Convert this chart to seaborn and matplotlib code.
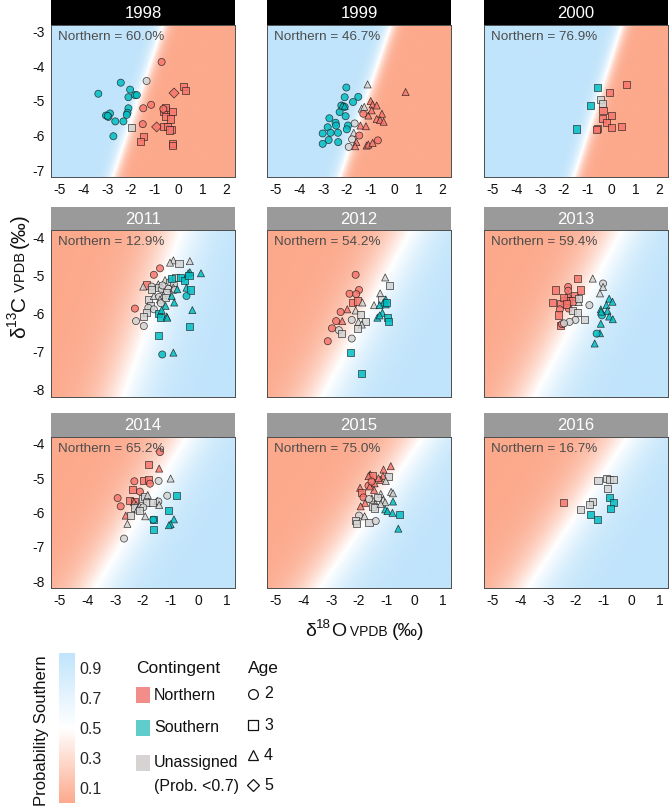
import numpy as np
import pandas as pd
import matplotlib
matplotlib.use("Agg")
import matplotlib.pyplot as plt
import seaborn as sns
from matplotlib.colors import LinearSegmentedColormap, Normalize
from matplotlib.cm import ScalarMappable
from matplotlib.patches import Rectangle
from matplotlib.lines import Line2D
from matplotlib import font_manager as fm

# ------------------------------------------------------------------ data
YEARS = [1998, 1999, 2000, 2011, 2012, 2013, 2014, 2015, 2016]
NORTHERN_PCT = ["60.0", "46.7", "76.9", "12.9", "54.2", "59.4", "65.2", "75.0", "16.7"]

# probability surface: boundary (p = 0.5) d18O at top / bottom of the panel, steepness
BOUND_TOP = [-0.66, -0.16, 0.42, -0.62, -0.12, -0.35, -0.44, 0.29, -0.16]
BOUND_BOT = [-2.76, -2.30, -1.58, -2.72, -3.33, -3.50, -3.72, -3.41, -3.74]
STEEP = [-6.0, -6.0, -6.0, 1.6, 1.6, 1.6, 1.6, 1.6, 1.6]

X_TICKS_A = [-5, -4, -3, -2, -1, 0, 1, 2]
Y_TICKS_A = [-7, -6, -5, -4, -3]
X_TICKS_B = [-5, -4, -3, -2, -1, 0, 1]
Y_TICKS_B = [-8, -7, -6, -5, -4]

CB_TICKS = [0.1, 0.3, 0.5, 0.7, 0.9]
CONTINGENTS = ["Northern", "Southern", "Unassigned"]
AGES = [2, 3, 4, 5]

# (d18O, d13C, contingent, age)
PTS_1998 = [
    (-3.37, -4.79, "S", 2), (-2.43, -4.47, "S", 2), (-2.04, -4.67, "S", 2), (-2.11, -4.89, "S", 2),
    (-1.83, -4.83, "S", 2), (-1.76, -4.83, "S", 2), (-2.11, -5.21, "S", 2), (-2.15, -5.34, "S", 2),
    (-2.18, -5.40, "S", 2), (-2.88, -5.36, "S", 2), (-3.05, -5.42, "S", 2), (-2.95, -5.46, "S", 2),
    (-2.98, -5.43, "S", 2), (-2.66, -5.59, "S", 2), (-2.32, -5.59, "S", 2), (-2.74, -6.02, "S", 2),
    (-1.35, -4.42, "U", 2), (-2.00, -5.78, "U", 3),
    (-0.72, -3.87, "N", 2), (-1.16, -5.11, "N", 2), (-1.49, -5.21, "N", 2), (-1.51, -5.67, "N", 2),
    (0.19, -4.59, "N", 3), (0.27, -4.69, "N", 3), (-0.20, -4.77, "N", 5), (-0.58, -5.25, "N", 3),
    (-0.65, -5.29, "N", 3), (-0.55, -5.20, "N", 3), (-0.65, -5.23, "N", 2), (-0.26, -5.30, "N", 3),
    (-0.56, -5.46, "N", 3), (-0.34, -5.52, "N", 3), (-0.93, -5.75, "N", 5), (-0.65, -5.73, "N", 3),
    (-0.48, -5.75, "N", 3), (-0.30, -5.82, "N", 3), (-0.38, -5.84, "N", 3), (-1.49, -6.04, "N", 3),
    (-1.60, -6.16, "N", 3), (-0.26, -6.24, "N", 3), (-0.26, -6.29, "N", 3),
]
PTS_1999 = [
    (-2.03, -4.61, "S", 2), (-2.10, -4.89, "S", 2), (-1.53, -4.88, "S", 2), (-1.75, -5.03, "S", 2),
    (-2.24, -5.13, "S", 2), (-2.10, -5.17, "S", 2), (-2.31, -5.32, "S", 2), (-2.06, -5.44, "S", 2),
    (-2.74, -5.50, "S", 2), (-2.48, -5.63, "S", 2), (-2.46, -5.71, "S", 2), (-2.81, -5.76, "S", 2),
    (-1.96, -5.71, "S", 2), (-2.01, -5.82, "S", 2), (-3.02, -5.94, "S", 2), (-2.69, -5.92, "S", 2),
    (-2.38, -5.92, "S", 2), (-2.77, -6.13, "S", 2), (-3.02, -6.24, "S", 2), (-2.37, -6.19, "S", 2),
    (-2.20, -5.13, "S", 4), (-2.10, -5.15, "S", 4),
    (-1.14, -4.52, "U", 4), (-1.39, -5.22, "U", 4), (-1.28, -5.17, "U", 4), (-1.68, -5.65, "U", 2),
    (-1.72, -5.92, "U", 4), (-1.79, -6.11, "U", 2), (-1.93, -6.33, "U", 2),
    (0.45, -4.74, "N", 4), (-1.01, -5.00, "N", 4), (-0.93, -5.10, "N", 4), (-0.76, -5.13, "N", 4),
    (-1.32, -5.37, "N", 2), (-1.11, -5.42, "N", 4), (-0.54, -5.37, "N", 4), (-0.76, -5.52, "N", 4),
    (-0.62, -5.55, "N", 4), (-0.47, -5.60, "N", 4), (-0.97, -5.27, "N", 4), (-1.44, -5.71, "N", 4),
    (-1.21, -5.73, "N", 4), (-1.49, -6.00, "N", 2), (-1.61, -6.19, "N", 4), (-1.66, -6.31, "N", 4),
    (-1.18, -6.29, "N", 4), (-1.11, -6.26, "N", 4), (-0.93, -6.21, "N", 4), (-0.71, -6.14, "N", 2),
]
PTS_2000 = [
    (-0.61, -4.61, "S", 3), (-0.89, -5.12, "S", 3), (-1.48, -5.81, "S", 3),
    (-0.49, -4.95, "U", 3), (-0.41, -5.06, "U", 3),
    (0.62, -4.52, "N", 3), (-0.08, -4.76, "N", 3), (-0.37, -5.27, "N", 3), (-0.01, -5.42, "N", 3),
    (-0.38, -5.51, "N", 3), (-0.21, -5.62, "N", 3), (-0.61, -5.79, "N", 3), (-0.66, -5.82, "N", 3),
    (0.00, -5.78, "N", 3), (0.41, -5.75, "N", 3),
]
PTS_2011 = [
    (-1.39, -4.81, "N", 2), (-1.61, -4.98, "N", 2), (-1.87, -5.25, "N", 3), (-2.29, -5.87, "N", 2),
    (-0.91, -4.60, "U", 4), (-0.71, -4.69, "U", 3), (-0.32, -4.62, "U", 4), (-1.03, -4.66, "U", 4),
    (-0.85, -5.05, "U", 3), (-1.21, -5.12, "U", 4), (-1.69, -5.29, "U", 2), (-1.45, -5.23, "U", 4),
    (-1.03, -5.17, "U", 2), (-0.89, -5.23, "U", 2), (-1.45, -5.32, "U", 3), (-1.33, -5.36, "U", 2),
    (-1.09, -5.35, "U", 2), (-1.15, -5.45, "U", 3), (-0.91, -5.32, "U", 4), (-0.85, -5.38, "U", 2),
    (-1.81, -5.64, "U", 3), (-1.61, -5.54, "U", 4), (-1.42, -5.56, "U", 2), (-1.27, -5.52, "U", 4),
    (-1.39, -5.63, "U", 4), (-1.18, -5.58, "U", 3), (-1.73, -5.78, "U", 3), (-1.81, -5.85, "U", 2),
    (-1.61, -5.89, "U", 2), (-1.87, -5.98, "U", 3), (-1.97, -6.08, "U", 3), (-2.25, -6.20, "U", 2),
    (-1.97, -6.33, "U", 2), (-1.36, -5.73, "U", 2), (-1.99, -5.29, "U", 4), (-1.69, -5.36, "U", 3),
    (-1.30, -5.26, "U", 2),
    (-0.32, -4.91, "S", 4), (0.08, -4.94, "S", 4), (-0.38, -4.94, "S", 4), (-0.97, -5.08, "S", 3),
    (-0.65, -5.04, "S", 3), (-0.50, -5.12, "S", 3), (-0.35, -5.01, "S", 3), (-0.77, -5.36, "S", 4),
    (-0.97, -5.54, "S", 4), (-0.44, -5.32, "S", 4), (-0.28, -5.38, "S", 3), (-0.44, -5.54, "S", 2),
    (-0.88, -5.71, "S", 4), (-1.19, -5.80, "S", 4), (-1.45, -6.00, "S", 3), (-1.33, -5.91, "S", 4),
    (-1.37, -6.10, "S", 3), (-1.15, -6.08, "S", 4), (-1.13, -6.11, "S", 4), (-0.23, -5.91, "S", 4),
    (-0.34, -6.35, "S", 3), (-1.43, -6.58, "S", 3), (-1.31, -7.08, "S", 2), (-0.91, -7.03, "S", 4),
]
PTS_2012 = [
    (-2.12, -4.98, "N", 2), (-2.00, -5.38, "N", 2), (-2.34, -5.48, "N", 2), (-2.10, -5.49, "N", 2),
    (-2.24, -5.71, "N", 3), (-2.06, -5.67, "N", 3), (-2.42, -5.89, "N", 4), (-2.66, -5.96, "N", 2),
    (-2.82, -6.20, "N", 2), (-2.60, -6.20, "N", 4), (-2.97, -6.39, "N", 2), (-3.12, -6.73, "N", 2),
    (-1.06, -5.05, "U", 4), (-0.92, -5.27, "U", 3), (-1.24, -5.47, "U", 4), (-1.88, -5.71, "U", 4),
    (-1.46, -5.78, "U", 4), (-2.12, -5.92, "U", 4), (-1.94, -6.02, "U", 3), (-2.26, -6.17, "U", 2),
    (-2.02, -6.22, "U", 4), (-1.78, -6.22, "U", 3), (-1.90, -6.29, "U", 4), (-2.06, -6.40, "U", 3),
    (-2.72, -6.44, "U", 2), (-2.64, -6.53, "U", 3), (-2.26, -6.66, "U", 2), (-1.18, -5.63, "U", 3),
    (-1.04, -5.63, "S", 4), (-1.12, -5.71, "S", 4), (-1.26, -5.78, "S", 4), (-1.04, -5.76, "S", 4),
    (-1.00, -5.70, "S", 3), (-1.16, -5.98, "S", 4), (-1.34, -6.11, "S", 4), (-1.26, -6.05, "S", 4),
    (-0.98, -6.11, "S", 3), (-0.94, -6.22, "S", 3), (-2.30, -7.02, "S", 3), (-1.90, -7.59, "S", 3),
]
PTS_2013 = [
    (-1.96, -5.08, "N", 3), (-2.28, -5.30, "N", 2), (-2.74, -5.38, "N", 3), (-2.29, -5.48, "N", 4),
    (-2.07, -5.54, "N", 3), (-2.41, -5.65, "N", 3), (-2.26, -5.65, "N", 3), (-2.83, -5.70, "N", 3),
    (-2.56, -5.73, "N", 3), (-2.58, -5.89, "N", 2), (-2.26, -5.87, "N", 2), (-2.64, -6.04, "N", 3),
    (-2.56, -6.31, "N", 3), (-1.84, -5.38, "N", 3), (-2.13, -5.67, "N", 3), (-2.28, -5.40, "N", 2),
    (-2.45, -5.58, "N", 3), (-2.35, -5.75, "N", 3), (-2.50, -6.28, "N", 2),
    (-1.40, -5.08, "U", 4), (-1.03, -5.21, "U", 2), (-1.03, -5.30, "U", 4), (-1.14, -5.47, "U", 4),
    (-1.90, -5.70, "U", 4), (-1.90, -5.61, "U", 3), (-1.52, -5.78, "U", 2), (-2.14, -5.91, "U", 3),
    (-1.96, -5.98, "U", 3), (-2.02, -6.17, "U", 2), (-2.23, -6.22, "U", 2), (-2.43, -6.26, "U", 2),
    (-1.69, -6.16, "U", 3),
    (-0.81, -5.61, "S", 4), (-0.69, -5.69, "S", 4), (-0.91, -5.78, "S", 4), (-1.11, -5.89, "S", 4),
    (-0.87, -5.93, "S", 4), (-1.07, -6.05, "S", 2), (-0.81, -6.08, "S", 4), (-0.68, -6.15, "S", 4),
    (-1.11, -6.27, "S", 4), (-1.14, -6.52, "S", 4), (-1.26, -6.53, "S", 2), (-1.33, -6.79, "S", 4),
    (-1.10, -5.95, "S", 4),
]
PTS_2014 = [
    (-1.39, -4.24, "N", 2), (-1.79, -4.60, "N", 3), (-1.42, -4.72, "N", 4), (-2.31, -5.09, "N", 2),
    (-1.97, -5.08, "N", 3), (-1.79, -5.03, "N", 3), (-1.75, -5.16, "N", 2), (-2.37, -5.32, "N", 3),
    (-2.11, -5.39, "N", 2), (-2.91, -5.58, "N", 2), (-2.50, -5.66, "N", 3), (-2.32, -5.67, "N", 3),
    (-2.32, -5.70, "N", 4), (-2.80, -5.82, "N", 2), (-2.62, -6.09, "N", 4),
    (-1.44, -5.08, "U", 2), (-1.01, -5.01, "U", 4), (-1.13, -5.51, "U", 2), (-2.01, -5.58, "U", 3),
    (-1.93, -5.54, "U", 3), (-1.83, -5.49, "U", 4), (-1.49, -5.66, "U", 4), (-1.45, -5.68, "U", 2),
    (-1.42, -5.78, "U", 4), (-1.87, -5.72, "U", 3), (-1.67, -5.70, "U", 3), (-2.25, -5.78, "U", 4),
    (-2.29, -5.85, "U", 3), (-2.13, -5.82, "U", 4), (-1.99, -5.85, "U", 2), (-2.20, -5.91, "U", 4),
    (-2.13, -5.94, "U", 3), (-2.44, -6.09, "U", 3), (-2.56, -6.33, "U", 4), (-1.92, -6.11, "U", 4),
    (-2.68, -6.76, "U", 2),
    (-0.79, -5.51, "S", 3), (-1.07, -5.94, "S", 3), (-1.61, -6.20, "S", 3), (-1.63, -6.21, "S", 2),
    (-0.89, -6.20, "S", 4), (-1.61, -6.50, "S", 3), (-1.01, -6.34, "S", 4), (-1.07, -6.37, "S", 4),
]
PTS_2015 = [
    (-0.86, -4.65, "N", 4), (-1.12, -4.75, "N", 4), (-1.60, -4.89, "N", 4), (-1.52, -4.92, "N", 3),
    (-1.66, -4.94, "N", 4), (-1.14, -4.94, "N", 4), (-1.22, -5.05, "N", 4), (-1.44, -5.15, "N", 4),
    (-1.66, -5.22, "N", 2), (-1.96, -5.28, "N", 4), (-1.46, -5.34, "N", 4), (-1.90, -5.42, "N", 3),
    (-1.84, -5.56, "N", 2), (-1.78, -5.72, "N", 4), (-1.94, -5.82, "N", 4), (-1.61, -5.24, "N", 4),
    (-1.30, -5.00, "N", 4), (-1.55, -5.10, "N", 2),
    (-0.94, -4.96, "U", 3), (-1.04, -5.08, "U", 4), (-0.85, -5.40, "U", 4), (-0.78, -5.44, "U", 4),
    (-1.22, -5.46, "U", 4), (-1.54, -5.59, "U", 4), (-1.34, -5.56, "U", 3), (-1.13, -5.63, "U", 4),
    (-1.64, -5.61, "U", 2), (-1.40, -5.75, "U", 4), (-1.06, -5.70, "U", 4), (-1.52, -5.82, "U", 3),
    (-1.44, -5.87, "U", 3), (-1.22, -5.75, "U", 4), (-2.00, -6.09, "U", 2), (-1.80, -6.11, "U", 4),
    (-2.12, -6.23, "U", 3), (-2.10, -6.33, "U", 3), (-1.64, -6.30, "U", 3), (-1.40, -6.25, "U", 2),
    (-0.78, -5.68, "S", 4), (-1.06, -5.91, "S", 4), (-0.98, -5.96, "S", 4), (-0.80, -6.01, "S", 4),
    (-0.56, -6.05, "S", 3), (-0.59, -6.47, "S", 4),
]
PTS_2016 = [
    (-2.46, -5.72, "N", 3),
    (-1.21, -5.07, "U", 3), (-0.91, -5.00, "U", 3), (-0.79, -5.03, "U", 3), (-0.65, -5.05, "U", 3),
    (-0.87, -5.31, "U", 3), (-1.41, -5.67, "U", 3), (-1.53, -5.76, "U", 3), (-1.84, -5.91, "U", 3),
    (-0.81, -5.57, "S", 3), (-0.65, -5.70, "S", 3), (-0.77, -5.88, "S", 3), (-1.47, -6.06, "S", 3),
    (-1.23, -6.20, "S", 3),
]
ALL_PTS = [PTS_1998, PTS_1999, PTS_2000, PTS_2011, PTS_2012, PTS_2013, PTS_2014, PTS_2015, PTS_2016]

# ------------------------------------------------------------------ style
sns.set_theme(style="white")
plt.rcParams["font.family"] = ["Liberation Sans", "DejaVu Sans"]
plt.rcParams["axes.unicode_minus"] = False

_names = {f.name for f in fm.fontManager.ttflist}
NARROW = ["Liberation Sans Narrow", "Liberation Sans"] if "Liberation Sans Narrow" in _names else ["Liberation Sans"]

C_LOW, C_HIGH = "#FCA98C", "#C0E4FB"
CMAP = LinearSegmentedColormap.from_list("prob", [C_LOW, "#FFFFFF", C_HIGH])
PAL = {"N": "#F8766D", "S": "#00BFC4", "U": "#D3D3D3"}
KEY_COL = ["#F28D89", "#5ECDCC", "#D7D3D3"]
MARK = {2: "o", 3: "s", 4: "^", 5: "D"}

W, H = 669, 806
fig = plt.figure(figsize=(W / 100, H / 100), dpi=100)


def rect(left, top, w, h):
    return [left / W, 1 - (top + h) / H, w / W, h / H]


COL_LEFT = [51, 267, 484]
PANEL_W = 184
ROWS = [  # strip top, strip h, panel h
    (0, 25, 152),
    (207, 23, 167),
    (413, 24, 151),
]
STRIP_COL = ["#000000", "#9A9A9A", "#9A9A9A"]
LIMS = [((-5.35, 2.35), (-7.2, -2.8)), ((-5.3, 1.3), (-8.2, -3.8)), ((-5.3, 1.3), (-8.2, -3.8))]
TICKS = [(X_TICKS_A, Y_TICKS_A), (X_TICKS_B, Y_TICKS_B), (X_TICKS_B, Y_TICKS_B)]

for i, year in enumerate(YEARS):
    r, c = divmod(i, 3)
    st, sh, ph = ROWS[r]
    left = COL_LEFT[c]
    ax = fig.add_axes(rect(left, st + sh, PANEL_W, ph))
    (x0, x1), (y0, y1) = LIMS[r]

    # probability surface
    gx = np.linspace(x0, x1, 300)
    gy = np.linspace(y0, y1, 300)
    GX, GY = np.meshgrid(gx, gy)
    xb = BOUND_BOT[i] + (BOUND_TOP[i] - BOUND_BOT[i]) * (GY - y0) / (y1 - y0)
    P = 1.0 / (1.0 + np.exp(-STEEP[i] * (GX - xb)))
    ax.imshow(P, extent=(x0, x1, y0, y1), origin="lower", aspect="auto",
              cmap=CMAP, vmin=0, vmax=1, interpolation="bilinear", zorder=0)

    df = pd.DataFrame(ALL_PTS[i], columns=["d18O", "d13C", "cont", "age"])
    ages = sorted(df["age"].unique())
    sns.scatterplot(data=df, x="d18O", y="d13C", hue="cont", style="age",
                    palette=PAL, markers={a: MARK[a] for a in ages}, style_order=ages,
                    s=26, edgecolor="#1A1A1A", linewidth=0.5, alpha=0.85,
                    legend=False, ax=ax, zorder=3)

    ax.set_xlim(x0, x1)
    ax.set_ylim(y0, y1)
    xt, yt = TICKS[r]
    ax.set_xticks(xt)
    ax.set_yticks(yt)
    ax.set_xlabel("")
    ax.set_ylabel("")
    if r == 1:
        ax.set_xticklabels([])
        ax.tick_params(axis="x", length=0)
    else:
        ax.set_xticklabels([str(t) for t in xt])
    if c == 0:
        ax.set_yticklabels([str(t) for t in yt])
    else:
        ax.set_yticklabels([])
        ax.tick_params(axis="y", length=0)
    ax.tick_params(direction="out", width=0.6, color="#333333", labelsize=10,
                   labelcolor="#111111", pad=1.5)
    if r != 1:
        ax.tick_params(axis="x", length=3)
    if c == 0:
        ax.tick_params(axis="y", length=3)
    for sp in ax.spines.values():
        sp.set_visible(True)
        sp.set_color("#4D4D4D")
        sp.set_linewidth(0.7)

    ax.annotate(f"Northern = {NORTHERN_PCT[i]}%", xy=(0, 1), xycoords="axes fraction",
                xytext=(5, -8.5), textcoords="offset points", ha="left", va="center",
                color="#4D4D4D", fontsize=9.7, zorder=5)

    sax = fig.add_axes(rect(left, st, PANEL_W, sh))
    sax.set_facecolor(STRIP_COL[r])
    sax.set_xticks([])
    sax.set_yticks([])
    for sp in sax.spines.values():
        sp.set_visible(False)
    sax.text(0.5, 0.47, str(year), color="white", ha="center", va="center",
             fontsize=12, transform=sax.transAxes)

anchor_ax = fig.axes[0]


def chain(parts, x_px, y_px, rotation=0):
    """Place text pieces one after another on a shared baseline."""
    prev = None
    for txt, size, rise in parts:
        if rotation == 0:
            if prev is None:
                prev = fig.text(x_px / W, 1 - y_px / H, txt, fontsize=size,
                                ha="left", va="baseline", color="#111111")
            else:
                prev = anchor_ax.annotate(txt, xy=(1, 1 - y_px / H),
                                          xycoords=(prev, "figure fraction"),
                                          xytext=(0, rise), textcoords="offset points",
                                          fontsize=size, ha="left", va="baseline",
                                          color="#111111", annotation_clip=False)
        else:
            if prev is None:
                prev = fig.text(x_px / W, 1 - y_px / H, txt, fontsize=size, rotation=90,
                                rotation_mode="anchor", ha="left", va="baseline",
                                color="#111111")
            else:
                prev = anchor_ax.annotate(txt, xy=(x_px / W, 1),
                                          xycoords=("figure fraction", prev),
                                          xytext=(-rise, 0), textcoords="offset points",
                                          fontsize=size, rotation=90, rotation_mode="anchor",
                                          ha="left", va="baseline", color="#111111",
                                          annotation_clip=False)


chain([("δ", 14, 0), ("18", 9.5, 6), ("O", 14, 0), (" VPDB ", 10, 0), ("(‰)", 14, 0)], 305, 636)
chain([("δ", 15, 0), ("13", 10, 6.5), ("C", 15, 0), (" VPDB ", 10.5, 0), ("(‰)", 15, 0)],
      25, 338, rotation=90)

# ------------------------------------------------------------------ legends
cax = fig.add_axes(rect(59, 653, 16, 150))
cb = fig.colorbar(ScalarMappable(norm=Normalize(0, 1), cmap=CMAP), cax=cax)
cb.set_ticks(CB_TICKS)
cb.set_ticklabels([f"{t:.1f}" for t in CB_TICKS])
cb.outline.set_visible(False)
cax.tick_params(length=0, pad=3, labelsize=11.5)
for lab in cax.get_yticklabels():
    lab.set_family(NARROW)
fig.text(42 / W, 1 - 731 / H, "Probability Southern", rotation=90, ha="center", va="center",
         fontsize=12, family=NARROW, color="#111111")

fig.text(136 / W, 1 - 668 / H, "Contingent", ha="left", va="center", fontsize=12.5,
         family=NARROW, color="#111111")
key_y = [695, 728, 763]
labels_ct = ["Northern", "Southern", "Unassigned"]
for ky, kc, lab in zip(key_y, KEY_COL, labels_ct):
    fig.patches.append(Rectangle((136 / W, 1 - (ky + 8) / H), 14 / W, 16 / H,
                                 transform=fig.transFigure, facecolor=kc, edgecolor="none"))
    fig.text(154 / W, 1 - ky / H, lab, ha="left", va="center", fontsize=11.5,
             family=NARROW, color="#111111")
fig.text(154 / W, 1 - 786 / H, "(Prob. <0.7)", ha="left", va="center", fontsize=11.5,
         family=NARROW, color="#111111")

fig.text(248 / W, 1 - 668 / H, "Age", ha="left", va="center", fontsize=12.5,
         family=NARROW, color="#111111")
age_y = [694, 725, 755, 785]
for ay, a in zip(age_y, AGES):
    fig.add_artist(Line2D([253 / W], [1 - ay / H], marker=MARK[a], markersize=7 if a != 5 else 6,
                          markerfacecolor="none", markeredgecolor="#111111",
                          markeredgewidth=0.9, linestyle="none", transform=fig.transFigure))
    fig.text(264 / W, 1 - ay / H, str(a), ha="left", va="center", fontsize=11.5,
             family=NARROW, color="#111111")

fig.savefig("out.png", dpi=100)
